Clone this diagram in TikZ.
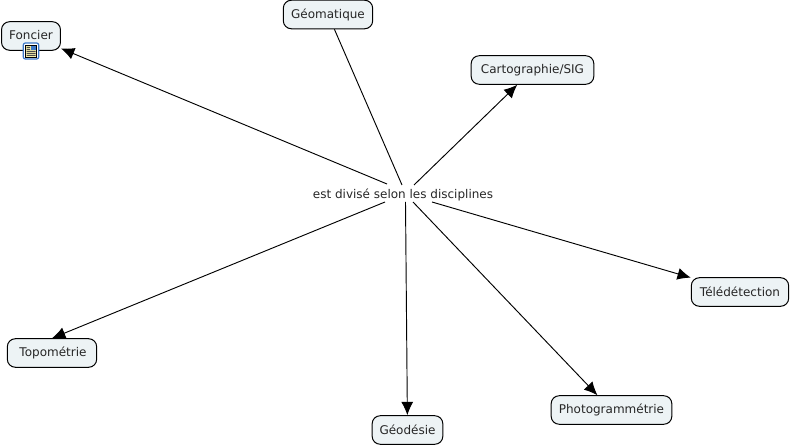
\documentclass[tikz,border=0pt]{standalone}
\usepackage{fontspec}
\setmainfont{DejaVu Sans}
\usetikzlibrary{arrows.meta}
\definecolor{conceptfill}{HTML}{EDF3F5}
\definecolor{iconblue}{HTML}{3C78C8}
\definecolor{iconpage}{HTML}{F5EFA8}
\tikzset{
  x=0.75pt,y=-0.75pt,
  concept/.style={draw=black,line width=0.75pt,fill=conceptfill,rounded corners=6pt,inner sep=0pt,
    minimum height=21.4pt,font=\fontsize{9pt}{11pt}\selectfont,text=black!85},
  linking/.style={inner sep=0pt,font=\fontsize{9pt}{11pt}\selectfont,text=black!85},
  link/.style={draw=black,line width=0.7pt},
  linkarrow/.style={link,-{Latex[length=10pt,width=9pt]}},
}
\begin{document}
\begin{tikzpicture}
\useasboundingbox (0,0) rectangle (790,445);
\node[concept,minimum width=44.2pt] (foncier) at (31,36) {\raisebox{1pt}{Foncier}};
\node[concept,minimum width=67pt] (geomatique) at (328,14.5) {Géomatique};
\node[concept,minimum width=92pt] (carto) at (532.5,70) {Cartographie/SIG};
\node[concept,minimum width=73pt] (tele) at (740,292) {Télédétection};
\node[concept,minimum width=90.5pt] (photo) at (611.5,410) {Photogrammétrie};
\node[concept,minimum width=53pt] (geodesie) at (407.5,430) {Géodésie};
\node[concept,minimum width=67pt] (topo) at (52,353) {\hspace{1.5pt}Topométrie};
\node[linking] (label) at (403,195) {est divisé selon les disciplines};
\coordinate (sgeom) at (402,185);
\coordinate (sfon) at (387,184);
\coordinate (scar) at (414,185);
\coordinate (stel) at (432,202);
\coordinate (spho) at (413,202);
\coordinate (sgeo) at (405.5,202);
\coordinate (stop) at (385,202);
\draw[link] (geomatique) -- (sgeom);
\draw[linkarrow] (sfon) -- (foncier);
\draw[linkarrow] (scar) -- (carto);
\draw[linkarrow] (stel) -- (tele);
\draw[linkarrow] (spho) -- (photo);
\draw[linkarrow] (sgeo) -- (geodesie);
\draw[linkarrow] (stop) -- (topo.north);
% resource icon on Foncier
\node[draw=iconblue,line width=0.9pt,fill=white,rounded corners=1.5pt,minimum width=11.5pt,minimum height=12pt,inner sep=0pt] (icon) at (31,51) {};
\node[draw=black,line width=0.4pt,fill=iconpage,minimum width=8pt,minimum height=9pt,inner sep=0pt] (page) at (31,51) {};
\fill[black!70] (26.5,51) rectangle (35.5,52) (26.5,53) rectangle (35.5,54) (26.5,55) rectangle (35.5,56);
\fill[iconblue] (31,46.5) rectangle (35.5,50);
\fill[black!70] (26.5,47) rectangle (30,48) (26.5,49) rectangle (30,50);
\end{tikzpicture}
\end{document}
